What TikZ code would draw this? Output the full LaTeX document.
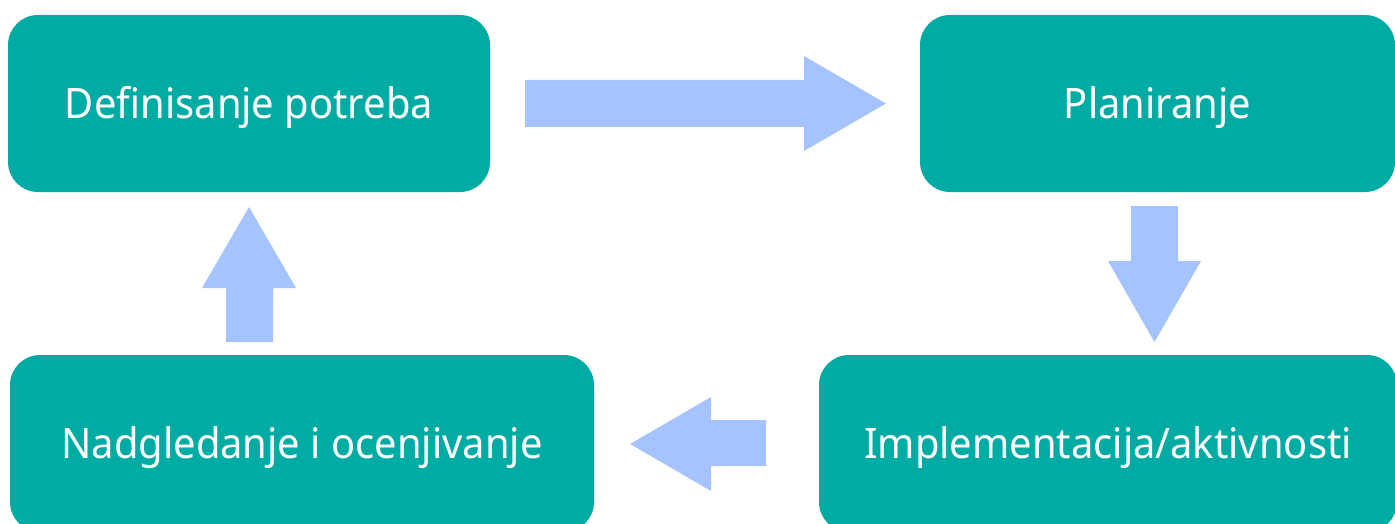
\documentclass[tikz,border=0pt]{standalone}
\usepackage{fontspec}
\setmainfont{Noto Sans}[FakeStretch=0.95]
\definecolor{boxc}{HTML}{00ABA3}
\definecolor{arrc}{HTML}{A5C4FF}
\begin{document}
\begin{tikzpicture}[x=1pt,y=-1pt,
  stagebox/.style={fill=boxc, rounded corners=30pt, text=white, inner sep=0pt,
    font=\fontsize{42}{50}\selectfont, minimum height=177pt,
    text height=30pt, text depth=0pt},
  blockarrow/.style={fill=arrc}]
\useasboundingbox (0,0) rectangle (1395,524);
\clip (0,0) rectangle (1395,524);
\node[stagebox, minimum width=482pt] (def) at (249,103.5) {Definisanje potreba};
\node[stagebox, minimum width=475pt] (plan) at (1157.5,103.5) {Planiranje};
\node[stagebox, minimum width=578pt] (impl) at (1108,443.5) {Implementacija/aktivnosti};
\node[stagebox, minimum width=584pt] (nadg) at (302,443.5) {Nadgledanje i ocenjivanje};
% right arrow
\fill[blockarrow] (525,80) -- (804,80) -- (804,56) -- (886,103.5) -- (804,151) -- (804,127) -- (525,127) -- cycle;
% down arrow
\fill[blockarrow] (1131,206) -- (1178,206) -- (1178,261) -- (1201,261) -- (1154.5,342) -- (1108,261) -- (1131,261) -- cycle;
% left arrow
\fill[blockarrow] (766,420) -- (766,466) -- (711,466) -- (711,491) -- (630,444) -- (711,397) -- (711,420) -- cycle;
% up arrow
\fill[blockarrow] (226,342) -- (273,342) -- (273,288) -- (296,288) -- (249,207) -- (202,288) -- (226,288) -- cycle;
\end{tikzpicture}
\end{document}
